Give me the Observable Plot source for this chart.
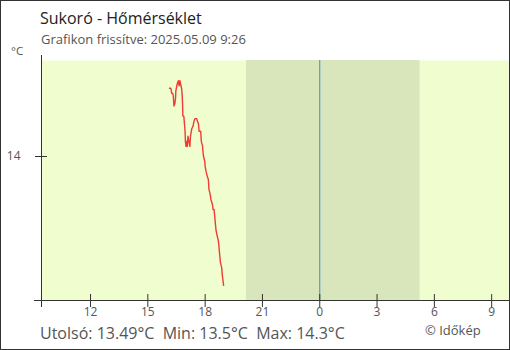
<!DOCTYPE html>
<html><head><meta charset="utf-8">
<script src="https://cdn.jsdelivr.net/npm/d3@7"></script>
<script src="https://cdn.jsdelivr.net/npm/@observablehq/plot@0.6"></script>
<style>
body{margin:0;background:#fff;font-family:"Open Sans",sans-serif;}
#wrap{position:relative;width:510px;height:350px;overflow:hidden;}
#wrap svg{position:absolute;left:0;top:0;}
.t{position:absolute;white-space:pre;line-height:1;}
#border{position:absolute;left:0;top:0;width:510px;height:350px;box-sizing:border-box;border:1px solid #333;pointer-events:none;}
</style></head>
<body>
<div id="wrap">
  <div id="chart"></div>
  <div class="t" id="title" style="left:40px;top:10px;font-size:16px;color:#222;">Sukoró - Hőmérséklet</div>
  <div class="t" id="sub" style="left:41px;top:33px;font-size:13px;color:#555;">Grafikon frissítve: 2025.05.09 9:26</div>
  <div class="t" id="unit" style="left:11px;top:45px;font-size:11.5px;color:#555;">°C</div>
  <div class="t" id="stats" style="left:40px;top:325px;font-size:16px;color:#555;">Utolsó: 13.49°C  Min: 13.5°C  Max: 14.3°C</div>
  <div class="t" id="copy" style="left:425px;top:324px;font-size:13px;color:#555;">© Időkép</div>
  <div id="border"></div>
</div>
<script>
// Temperature readings (local time, 2025-05-08)
const times = ["16:08","16:12","16:14","16:15","16:18","16:20","16:22","16:25","16:27","16:28",
  "16:31","16:33","16:36","16:38","16:41","16:44","16:46","16:48","16:49","16:50",
  "16:53","16:55","16:57","16:58","17:00","17:02","17:04","17:06","17:09","17:12",
  "17:14","17:18","17:22","17:25","17:28","17:33","17:36","17:39","17:41","17:44",
  "17:46","17:48","17:52","17:53","17:55","17:57","17:59","18:00","18:03","18:07",
  "18:10","18:12","18:16","18:18","18:23","18:25","18:28","18:31","18:34","18:37",
  "18:41","18:43","18:45","18:48","18:52","18:54","18:56","18:58"];
const temps = [14.27,14.27,14.26,14.25,14.25,14.24,14.20,14.21,14.23,14.26,
  14.28,14.29,14.30,14.28,14.30,14.28,14.27,14.24,14.21,14.16,
  14.16,14.13,14.10,14.06,14.04,14.06,14.04,14.08,14.06,14.04,
  14.08,14.11,14.12,14.14,14.15,14.15,14.14,14.13,14.10,14.10,
  14.10,14.06,14.04,14.02,14.00,13.99,13.98,13.96,13.94,13.92,
  13.91,13.87,13.85,13.83,13.81,13.79,13.79,13.75,13.71,13.69,
  13.67,13.65,13.62,13.58,13.56,13.53,13.51,13.49];
const xStart = "2025-05-08T09:26";
const xEnd = "2025-05-09T09:56";
const sunset = "2025-05-08T20:10";
const sunrise = "2025-05-09T05:15";
const midnight = "2025-05-09T00:00";
const yDomain = [13.43, 14.38];
const yTicks = [14];

const d = s => new Date(s + ":00Z");
const data = times.map((t, i) => ({time: d("2025-05-08T" + t), temp: temps[i]}));
const xTicks = d3.utcHour.every(3).range(d(xStart), d(xEnd));

const axisColor = "#333";
const W = 510, H = 350, mL = 41, mR = 1, mT = 60, mB = 50;
const plotW = W - mL - mR, plotH = H - mT - mB;

const plot = Plot.plot({
  width: W, height: H,
  marginLeft: mL, marginRight: mR, marginTop: mT, marginBottom: mB,
  style: {fontFamily: "Open Sans, sans-serif", fontSize: "12px", color: "#555", background: "transparent"},
  x: {type: "utc", domain: [d(xStart), d(xEnd)], axis: null},
  y: {domain: yDomain, axis: null},
  marks: [
    Plot.frame({fill: "#effdcf", stroke: null}),
    Plot.rectX([{a: d(sunset), b: d(sunrise)}], {x1: "a", x2: "b", fill: "#d9e5bb"}),
    Plot.ruleX([d(midnight)], {stroke: "#3d8fc6", strokeWidth: 1}),
    Plot.line(data, {x: "time", y: "temp", stroke: "#f03c34", strokeWidth: 1.4}),
    // x ticks crossing the axis line
    Plot.ruleX(xTicks, {x: t => t, stroke: axisColor, insetTop: plotH - 6, insetBottom: -7}),
    Plot.text(xTicks, {x: t => t, text: t => String(t.getUTCHours()), frameAnchor: "bottom", dy: 15, fill: "#555", fontSize: 12}),
    // y ticks crossing the axis line
    Plot.ruleY(yTicks, {y: v => v, stroke: axisColor, insetLeft: -6, insetRight: plotW - 6}),
    Plot.text(yTicks, {y: v => v, text: v => String(v), frameAnchor: "left", dx: -21, textAnchor: "end", fill: "#555", fontSize: 12}),
    // axis lines
    Plot.ruleY([yDomain[0]], {stroke: axisColor, insetLeft: -7}),
    Plot.ruleX([d(xStart)], {stroke: axisColor, insetTop: -5, insetBottom: -7})
  ]
});
document.getElementById("chart").appendChild(plot);
</script>
</body></html>
